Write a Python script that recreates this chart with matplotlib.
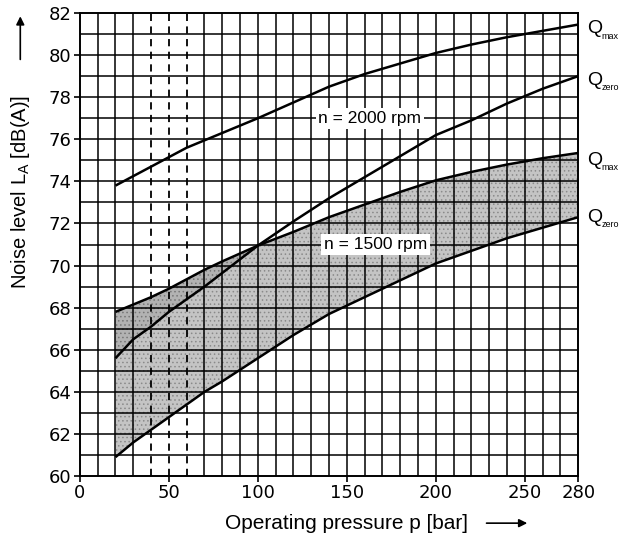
import matplotlib
matplotlib.use("Agg")
import matplotlib.pyplot as plt
import numpy as np

# Dados (pressão em bar, nível de ruído em dB(A))
pressao = [20, 30, 40, 50, 60, 70, 80, 100, 120, 140, 160, 180, 200, 220, 240, 260, 280]
qmax_2000 = [73.8, 74.25, 74.7, 75.15, 75.6, 75.95, 76.3, 77.0, 77.75, 78.5, 79.1, 79.6, 80.1, 80.5, 80.85, 81.15, 81.45]
qzero_2000 = [65.6, 66.5, 67.1, 67.8, 68.4, 69.0, 69.65, 70.95, 72.1, 73.2, 74.2, 75.2, 76.2, 76.9, 77.7, 78.4, 79.0]
qmax_1500 = [67.8, 68.15, 68.5, 68.9, 69.35, 69.8, 70.2, 70.95, 71.6, 72.3, 72.9, 73.5, 74.05, 74.45, 74.8, 75.1, 75.35]
qzero_1500 = [60.9, 61.6, 62.2, 62.8, 63.4, 64.0, 64.5, 65.6, 66.7, 67.7, 68.5, 69.3, 70.1, 70.7, 71.3, 71.8, 72.3]

xticks = [0, 50, 100, 150, 200, 250, 280]
yticks = list(range(60, 83, 2))
linhas_tracejadas = [40, 50, 60]

plt.rcParams['font.family'] = ['Liberation Sans', 'DejaVu Sans']
plt.rcParams['hatch.linewidth'] = 0.6

fig = plt.figure(figsize=(6.34, 5.41), dpi=100)
ax = fig.add_axes([0.126, 0.12, 0.786, 0.856])

x = np.array(pressao)
q1 = np.array(qmax_1500)
q0 = np.array(qzero_1500)
q20 = np.array(qzero_2000)

# Área sombreada (1500 rpm)
ax.fill_between(x, q0, q1, facecolor='#c4c4c4', edgecolor='#8a8a8a', hatch='....', lw=0, zorder=1)
ax.fill_between(x, q20, q1, where=q1 > q20, interpolate=True,
                facecolor='#b2b2b2', edgecolor='#777777', hatch='....', lw=0, zorder=1)

# Grade
for xv in range(10, 280, 10):
    if xv in linhas_tracejadas:
        ax.axvline(xv, color='black', lw=1.3, ls=(0, (4, 3)), zorder=2)
    else:
        ax.axvline(xv, color='black', lw=1.1, zorder=2)
for yv in range(61, 82):
    ax.axhline(yv, color='black', lw=1.1, zorder=2)

# Curvas
for serie in [qmax_2000, qzero_2000, qmax_1500, qzero_1500]:
    ax.plot(pressao, serie, color='black', lw=1.8, zorder=3, solid_capstyle='butt')

ax.set_xlim(0, 280)
ax.set_ylim(60, 82)
ax.set_xticks(xticks)
ax.set_yticks(yticks)
ax.tick_params(direction='out', length=4, width=1.2, color='black', pad=2)
for lab in ax.get_xticklabels() + ax.get_yticklabels():
    lab.set_fontfamily('DejaVu Sans')
    lab.set_fontsize(13)
for s in ax.spines.values():
    s.set_linewidth(1.4)

# Rótulos das rotações
caixa = dict(facecolor='white', edgecolor='none', pad=2)
ax.text(163, 77.0, 'n = 2000 rpm', fontsize=12.5, ha='center', va='center', bbox=caixa, zorder=4)
ax.text(166, 71.0, 'n = 1500 rpm', fontsize=12.5, ha='center', va='center', bbox=caixa, zorder=4)

# Rótulos Q à direita
rotulos_q = [(81.25, 'max'), (78.8, 'zero'), (75.0, 'max'), (72.3, 'zero')]
for yq, sub in rotulos_q:
    ax.text(285, yq, 'Q', fontsize=14, ha='left', va='center', clip_on=False)
    ax.text(293, yq - 0.35, sub, fontsize=6.5, ha='left', va='center', clip_on=False)

# Títulos dos eixos com setas
fig.text(0.032, 0.645, 'Noise level L$_\\mathregular{A}$ [dB(A)]', rotation=90,
         fontsize=14.5, ha='center', va='center')
fig.text(0.546, 0.033, 'Operating pressure p [bar]', fontsize=15, ha='center', va='center')
fig.add_artist(matplotlib.patches.FancyArrowPatch((0.032, 0.885), (0.032, 0.975), transform=fig.transFigure,
               arrowstyle='-|>', mutation_scale=12, color='black', lw=1.2))
fig.add_artist(matplotlib.patches.FancyArrowPatch((0.763, 0.033), (0.836, 0.033), transform=fig.transFigure,
               arrowstyle='-|>', mutation_scale=12, color='black', lw=1.2))

fig.savefig('out.png', dpi=100)
